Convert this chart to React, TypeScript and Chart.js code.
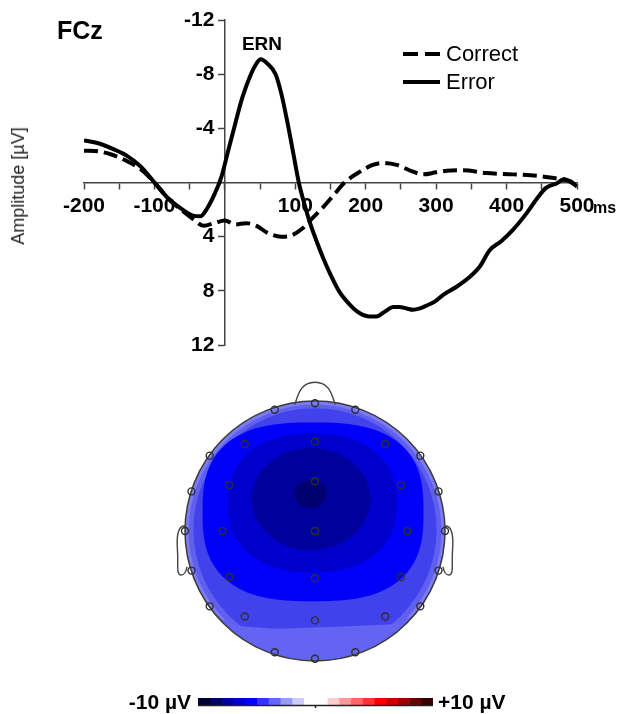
import React, { useEffect, useRef } from 'react';
import { Chart, registerables } from 'chart.js';

Chart.register(...registerables);

const FONT = '"Liberation Sans", Arial, Helvetica, sans-serif';

// ---------- ERP waveform data (ms, µV; negative plotted up) ----------
const errorTimes = [-200, -180, -160, -140, -120, -100, -80, -60, -45, -35, -25, -15, -5, 5, 15, 25, 37, 45, 51, 60, 72, 80, 89, 97, 105, 113, 121, 130, 139, 150, 163, 177, 190, 206, 215, 228, 239, 248, 258, 267, 277, 286, 298, 310, 329, 347, 362, 376, 392, 409, 428, 443, 456, 471, 480, 490, 500];
const errorValues = [-3.1, -2.9, -2.5, -2.0, -1.2, 0.0, 1.2, 2.0, 2.45, 2.5, 1.9, 0.9, -0.4, -2.4, -4.4, -6.3, -8.0, -8.8, -9.1, -8.8, -8.0, -6.6, -4.4, -2.2, 0.0, 1.6, 3.0, 4.3, 5.5, 6.8, 8.1, 9.0, 9.6, 9.9, 9.9, 9.5, 9.2, 9.2, 9.3, 9.4, 9.3, 9.1, 8.8, 8.3, 7.7, 7.0, 6.2, 5.0, 4.35, 3.5, 2.3, 1.2, 0.4, 0.07, -0.2, -0.1, 0.3];

const correctTimes = [-200, -180, -160, -140, -120, -100, -80, -60, -45, -30, -15, 0, 15, 30, 45, 60, 80, 95, 110, 125, 140, 155, 170, 192, 210, 225, 244, 267, 281, 300, 315, 338, 371, 409, 443, 471, 485, 494, 500];
const correctValues = [-2.35, -2.3, -2.05, -1.6, -1.0, 0.0, 1.2, 2.1, 2.7, 3.2, 3.0, 2.8, 3.1, 3.0, 3.2, 3.7, 4.0, 3.9, 3.4, 2.6, 1.8, 0.9, 0.0, -0.8, -1.3, -1.45, -1.3, -0.8, -0.6, -0.75, -0.87, -0.9, -0.7, -0.6, -0.5, -0.3, -0.2, 0.06, 0.3];

const seriesNames = ['Correct', 'Error'];
const xTickLabels = [-200, -100, 100, 200, 300, 400, 500];
const yTickLabels = [-12, -8, -4, 4, 8, 12];

// ---------- Topographic map data (normalised head coordinates) ----------
const electrodeX = [-0.31, 0, 0.31, -0.81, -0.54, 0, 0.54, 0.81, -0.95, -0.66, 0, 0.66, 0.95, -1.0, -0.71, 0, 0.71, 1.0, -0.95, -0.66, 0, 0.66, 0.95, -0.81, -0.54, 0, 0.54, 0.81, -0.31, 0, 0.31];
const electrodeY = [0.95, 1.0, 0.95, 0.59, 0.68, 0.70, 0.68, 0.59, 0.31, 0.36, 0.39, 0.36, 0.31, 0, 0, 0, 0, 0, -0.31, -0.36, -0.37, -0.36, -0.31, -0.59, -0.67, -0.70, -0.67, -0.59, -0.95, -1.0, -0.95];

const contourCx = [-0.015, -0.02, -0.03, -0.035];
const contourCy = [0.15, 0.22, 0.25, 0.29];
const contourA = [0.85, 0.65, 0.455, 0.125];
const contourB = [0.70, 0.545, 0.40, 0.11];
const contourExp = [2.7, 2.3, 2.0, 2.0];
const contourColors = ['#0000fa', '#0000cc', '#00009c', '#000070'];
const bandX = [-0.78, -0.6, -0.3, 0, 0.3, 0.6, 0.78];
const bandY = [-0.66, -0.745, -0.765, -0.755, -0.745, -0.73, -0.655];

// ---------- Colour bar ----------
const colorBarColors = ['#000033', '#000066', '#000099', '#0000cc', '#0000ff', '#3333ff', '#6666ff', '#9999ff', '#ccccff', '#ffffff', '#ffffff', '#ffcccc', '#ff9999', '#ff6666', '#ff3333', '#ff0000', '#cc0000', '#990000', '#660000', '#330000'];

function toPoints(xs: number[], ys: number[]) {
  return xs.map((x, i) => ({ x, y: ys[i] }));
}

const erpLegendPlugin = {
  id: 'erpLegend',
  afterDraw(chart: any) {
    const ctx = chart.ctx;
    ctx.save();
    ctx.strokeStyle = '#000';
    ctx.lineWidth = 4;
    ctx.setLineDash([15, 7]);
    ctx.beginPath();
    ctx.moveTo(403, 54);
    ctx.lineTo(440, 54);
    ctx.stroke();
    ctx.setLineDash([]);
    ctx.beginPath();
    ctx.moveTo(403, 82);
    ctx.lineTo(440, 82);
    ctx.stroke();
    ctx.restore();
  },
};

function superEllipse(ctx: any, px: (v: number) => number, py: (v: number) => number, cx: number, cy: number, a: number, b: number, n: number) {
  ctx.beginPath();
  const steps = 120;
  for (let i = 0; i <= steps; i++) {
    const t = (i / steps) * Math.PI * 2;
    const c = Math.cos(t);
    const s = Math.sin(t);
    const ex = cx + a * Math.sign(c) * Math.pow(Math.abs(c), 2 / n);
    const ey = cy + b * Math.sign(s) * Math.pow(Math.abs(s), 2 / n);
    if (i === 0) ctx.moveTo(px(ex), py(ey));
    else ctx.lineTo(px(ex), py(ey));
  }
  ctx.closePath();
}

const topoPlugin = {
  id: 'topoMap',
  beforeDatasetsDraw(chart: any) {
    const { ctx, scales } = chart;
    const px = (v: number) => scales.x.getPixelForValue(v);
    const py = (v: number) => scales.y.getPixelForValue(v);
    const cx = px(0);
    const cy = py(0);
    const r = px(1) - px(0);
    ctx.save();
    ctx.beginPath();
    ctx.arc(cx, cy, r, 0, Math.PI * 2);
    ctx.save();
    ctx.clip();
    ctx.fillStyle = '#5f5ff0';
    ctx.fillRect(cx - r, cy - r, 2 * r, 2 * r);
    // light rim
    ctx.strokeStyle = '#7c7cf4';
    ctx.lineWidth = 4;
    ctx.beginPath();
    ctx.arc(cx, cy, r - 1.5, 0, Math.PI * 2);
    ctx.stroke();
    // level 2
    ctx.fillStyle = '#4242ec';
    ctx.beginPath();
    ctx.arc(cx, cy - 0.01 * r, r * 0.935, 0, Math.PI * 2);
    ctx.fill();
    // lower lighter band
    ctx.fillStyle = '#6464f2';
    ctx.beginPath();
    ctx.moveTo(px(-1.1), py(bandY[0]));
    bandX.forEach((bx, i) => ctx.lineTo(px(bx), py(bandY[i])));
    ctx.lineTo(px(1.1), py(bandY[bandY.length - 1]));
    ctx.lineTo(px(1.1), py(-1.1));
    ctx.lineTo(px(-1.1), py(-1.1));
    ctx.closePath();
    ctx.fill();
    // inner contour levels
    contourColors.forEach((col, i) => {
      ctx.fillStyle = col;
      superEllipse(ctx, px, py, contourCx[i], contourCy[i], contourA[i], contourB[i], contourExp[i]);
      ctx.fill();
    });
    ctx.restore();
    // head outline
    ctx.strokeStyle = '#3c3c3c';
    ctx.lineWidth = 1.5;
    ctx.beginPath();
    ctx.arc(cx, cy, r, 0, Math.PI * 2);
    ctx.stroke();
    // nose
    ctx.lineWidth = 1.4;
    ctx.strokeStyle = '#444';
    ctx.beginPath();
    ctx.moveTo(px(-0.155), py(0.99));
    ctx.bezierCurveTo(px(-0.13), py(1.07), px(-0.11), py(1.165), px(0), py(1.165));
    ctx.bezierCurveTo(px(0.11), py(1.165), px(0.13), py(1.07), px(0.155), py(0.99));
    ctx.stroke();
    // ears
    [-1, 1].forEach((sd) => {
      ctx.beginPath();
      ctx.moveTo(px(sd * 0.99), py(0.04));
      ctx.bezierCurveTo(px(sd * 1.06), py(0.05), px(sd * 1.065), py(-0.05), px(sd * 1.058), py(-0.15));
      ctx.bezierCurveTo(px(sd * 1.05), py(-0.26), px(sd * 1.07), py(-0.345), px(sd * 1.03), py(-0.345));
      ctx.bezierCurveTo(px(sd * 1.0), py(-0.345), px(sd * 0.99), py(-0.31), px(sd * 0.985), py(-0.28));
      ctx.stroke();
    });
    ctx.restore();
  },
};

const colorBarPlugin = {
  id: 'barBase',
  afterDraw(chart: any) {
    const { ctx, chartArea, scales } = chart;
    const x0 = scales.x.getPixelForValue(0);
    const x1 = scales.x.getPixelForValue(colorBarColors.length);
    const yb = chartArea.bottom + 0.5;
    ctx.save();
    ctx.strokeStyle = '#222';
    ctx.lineWidth = 1.5;
    ctx.beginPath();
    ctx.moveTo(x0, yb);
    ctx.lineTo(x1, yb);
    ctx.moveTo((x0 + x1) / 2, yb);
    ctx.lineTo((x0 + x1) / 2, yb + 2.5);
    ctx.stroke();
    ctx.restore();
  },
};

export default function App() {
  const erpRef = useRef<HTMLCanvasElement>(null);
  const topoRef = useRef<HTMLCanvasElement>(null);
  const barRef = useRef<HTMLCanvasElement>(null);

  useEffect(() => {
    const charts: Chart[] = [];
    const axisFont = { family: FONT, size: 21, weight: 'bold' as const };
    charts.push(
      new Chart(erpRef.current as HTMLCanvasElement, {
        type: 'line',
        data: {
          datasets: [
            {
              label: seriesNames[0],
              data: toPoints(correctTimes, correctValues),
              borderColor: '#000',
              borderWidth: 4,
              borderDash: [14, 6],
              pointRadius: 0,
              cubicInterpolationMode: 'monotone',
              fill: false,
            },
            {
              label: seriesNames[1],
              data: toPoints(errorTimes, errorValues),
              borderColor: '#000',
              borderWidth: 4,
              pointRadius: 0,
              cubicInterpolationMode: 'monotone',
              fill: false,
            },
          ],
        },
        options: {
          responsive: false,
          animation: false,
          events: [],
          layout: { padding: { left: 84, right: 44, top: 20, bottom: 25 } },
          plugins: { legend: { display: false }, tooltip: { enabled: false } },
          scales: {
            x: {
              type: 'linear',
              min: -200,
              max: 500,
              position: { y: 0 } as any,
              grid: { drawOnChartArea: false, drawTicks: true, tickLength: 6, tickColor: '#444', tickWidth: 1.5 },
              border: { display: true, color: '#444', width: 1.5 },
              ticks: {
                stepSize: 50,
                autoSkip: false,
                maxRotation: 0,
                padding: 5,
                color: '#000',
                font: axisFont,
                callback: (v: any) => (xTickLabels.includes(Number(v)) ? String(v) : ''),
              },
            },
            y: {
              type: 'linear',
              min: -12,
              max: 12,
              reverse: true,
              position: { x: 0 } as any,
              grid: { drawOnChartArea: false, drawTicks: true, tickLength: 6, tickColor: '#444', tickWidth: 1.5 },
              border: { display: true, color: '#444', width: 1.5 },
              ticks: {
                stepSize: 4,
                autoSkip: false,
                padding: 2,
                color: '#000',
                font: { family: FONT, size: 21, weight: 'bold' as const },
                callback: (v: any) => (yTickLabels.includes(Number(v)) ? String(v) + '\u2002' : ''),
              },
            },
          },
        },
        plugins: [erpLegendPlugin],
      } as any)
    );

    charts.push(
      new Chart(topoRef.current as HTMLCanvasElement, {
        type: 'scatter',
        data: {
          datasets: [
            {
              label: 'Electrodes',
              data: toPoints(electrodeX, electrodeY),
              pointRadius: 3.5,
              pointBackgroundColor: 'rgba(0,0,0,0)',
              pointBorderColor: '#2e2e2e',
              pointBorderWidth: 1.4,
            },
          ],
        },
        options: {
          responsive: false,
          animation: false,
          events: [],
          layout: { padding: { left: 120, right: 111, top: 2.5, bottom: 2.5 } },
          plugins: { legend: { display: false }, tooltip: { enabled: false } },
          scales: {
            x: { type: 'linear', min: -1.5, max: 1.5, display: false },
            y: { type: 'linear', min: -1.25, max: 1.25, display: false },
          },
        },
        plugins: [topoPlugin],
      } as any)
    );

    charts.push(
      new Chart(barRef.current as HTMLCanvasElement, {
        type: 'bar',
        data: {
          labels: ['µV'],
          datasets: colorBarColors.map((c, i) => ({
            label: 'seg' + i,
            data: [1],
            backgroundColor: c,
            borderWidth: 0,
            barThickness: 7,
          })),
        },
        options: {
          indexAxis: 'y',
          responsive: false,
          animation: false,
          events: [],
          layout: { padding: { left: 198, right: 188, top: 8, bottom: 9 } },
          plugins: { legend: { display: false }, tooltip: { enabled: false } },
          scales: {
            x: { stacked: true, min: 0, max: colorBarColors.length, display: false },
            y: { stacked: true, display: false },
          },
        },
        plugins: [colorBarPlugin],
      } as any)
    );

    return () => charts.forEach((c) => c.destroy());
  }, []);

  const abs = (extra: React.CSSProperties): React.CSSProperties => ({
    position: 'absolute',
    whiteSpace: 'nowrap',
    lineHeight: 1,
    color: '#000',
    fontFamily: FONT,
    ...extra,
  });

  return (
    <div style={{ position: 'absolute', left: 0, top: 0, width: 621, height: 714, background: '#fff', overflow: 'hidden' }}>
      <canvas ref={erpRef} width={621} height={370} style={{ position: 'absolute', left: 0, top: 0, width: 621, height: 370 }} />
      <canvas ref={topoRef} width={621} height={330} style={{ position: 'absolute', left: 0, top: 366, width: 621, height: 330 }} />
      <canvas ref={barRef} width={621} height={24} style={{ position: 'absolute', left: 0, top: 690, width: 621, height: 24 }} />
      <div style={abs({ left: 57, top: 30, fontSize: 25, fontWeight: 'bold', transform: 'translateY(-50%)' })}>FCz</div>
      <div style={abs({ left: 262, top: 43, fontSize: 19, fontWeight: 'bold', transform: 'translate(-50%,-50%)' })}>ERN</div>
      <div style={abs({ left: 446, top: 54, fontSize: 22, transform: 'translateY(-50%)' })}>{seriesNames[0]}</div>
      <div style={abs({ left: 446, top: 82, fontSize: 22, transform: 'translateY(-50%)' })}>{seriesNames[1]}</div>
      <div style={abs({ left: 593, top: 208, fontSize: 16, fontWeight: 'bold', transform: 'translateY(-50%)' })}>ms</div>
      <div style={abs({ left: 18, top: 186, fontSize: 18, color: '#222', transform: 'translate(-50%,-50%) rotate(-90deg)' })}>Amplitude [µV]</div>
      <div style={abs({ right: 621 - 191, top: 701, fontSize: 21, fontWeight: 'bold', transform: 'translateY(-50%)' })}>-10 µV</div>
      <div style={abs({ left: 438, top: 701, fontSize: 21, fontWeight: 'bold', transform: 'translateY(-50%)' })}>+10 µV</div>
    </div>
  );
}
